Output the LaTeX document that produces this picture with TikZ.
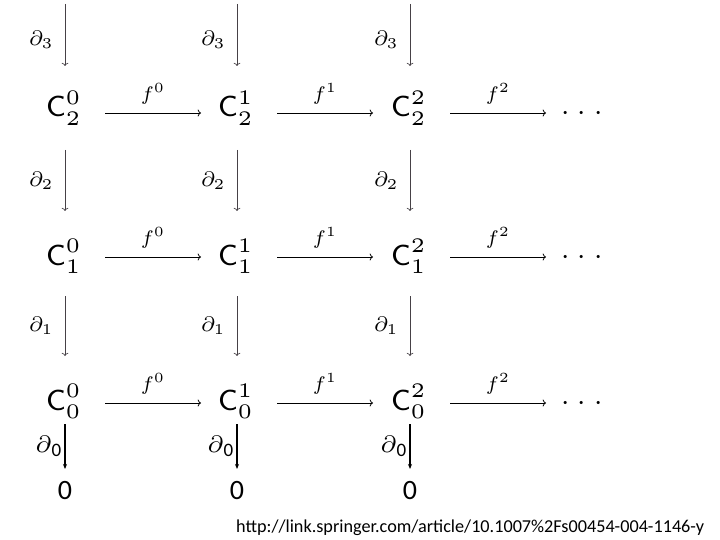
\documentclass[tikz,border=0pt]{standalone}
\usepackage{fix-cm}
\usepackage{fontspec}
\usetikzlibrary{arrows.meta}
\newfontfamily\calib{Carlito}
\newcommand{\objtxt}[2]{\scalebox{4.14}{\fontsize{7}{8}\selectfont$\mathsf{C}^{#1}_{#2}$}}
\newcommand{\bdtxt}[1]{\scalebox{3.0}{\fontsize{7}{8}\selectfont$\partial_{#1}$}}
\newcommand{\ftxt}[1]{\scalebox{2.8}{\fontsize{7}{8}\selectfont$f^{#1}$}}
\newcommand{\dotstxt}{\scalebox{3}{$\cdot\mkern1mu\cdot\mkern1mu\cdot$}}
\begin{document}
\begin{tikzpicture}[x=1pt,y=-1pt,
  obj/.style={inner sep=0pt,anchor=base},
  lbl/.style={inner sep=0pt},
  varr/.style={->,line width=0.7pt,draw={rgb,255:red,70;green,65;blue,70}},
  harr/.style={->,line width=0.8pt},
  zarr/.style={-{Stealth[length=5pt,width=4pt]},line width=1.6pt},
  zero/.style={inner sep=0pt,font=\calib\fontsize{28}{32}\selectfont}]
\useasboundingbox (0,0) rectangle (720,540);
% objects
\foreach \r/\y/\ya in {2/117/114,1/265/258,0/410/404}{
  \node[obj] (c0\r) at (64,\y) {\objtxt{0}{\r}};
  \node[obj] (c1\r) at (236,\y) {\objtxt{1}{\r}};
  \node[obj] (c2\r) at (409,\y) {\objtxt{2}{\r}};
  \node[inner sep=0pt] (d\r) at (582,\ya) {\dotstxt};
}
% horizontal arrows
\foreach \r/\y in {2/113,1/257,0/403}{
  \coordinate (h0s\r) at (105,\y); \coordinate (h0e\r) at (201,\y);
  \coordinate (h1s\r) at (277,\y); \coordinate (h1e\r) at (373,\y);
  \coordinate (h2s\r) at (450,\y); \coordinate (h2e\r) at (546,\y);
  \draw[harr] (h0s\r) -- node[lbl,above=8pt] {\ftxt{0}} (h0e\r);
  \draw[harr] (h1s\r) -- node[lbl,above=8pt] {\ftxt{1}} (h1e\r);
  \draw[harr] (h2s\r) -- node[lbl,above=8pt] {\ftxt{2}} (h2e\r);
}
% vertical arrows
\foreach \x [count=\i from 0] in {65,237,410}{
  \coordinate (v3s\i) at (\x,4);   \coordinate (v3e\i) at (\x,66);
  \coordinate (v2s\i) at (\x,150); \coordinate (v2e\i) at (\x,211);
  \coordinate (v1s\i) at (\x,296); \coordinate (v1e\i) at (\x,356);
  \draw[varr] (v3s\i) -- node[lbl,left=11pt,pos=0.58] {\bdtxt{3}} (v3e\i);
  \draw[varr] (v2s\i) -- node[lbl,left=11pt,pos=0.5] {\bdtxt{2}} (v2e\i);
  \draw[varr] (v1s\i) -- node[lbl,left=11pt,pos=0.5] {\bdtxt{1}} (v1e\i);
  \coordinate (v0s\i) at (\x,424);
  \node[zero] (z\i) at (\x,491) {0};
  \draw[zarr] (v0s\i) -- node[left=3pt,pos=0.5,inner sep=0pt] {\scalebox{3.4}{\fontsize{7}{8}\selectfont$\partial$}\raisebox{-4pt}{\calib\fontsize{19}{22}\selectfont 0}} (\x,469);
}
\node[anchor=base west,inner sep=0pt,font=\calib\fontsize{18.2}{21}\selectfont] (url) at (236,532) {http://link.springer.com/article/10.1007\%2Fs00454-004-1146-y};
\end{tikzpicture}
\end{document}
